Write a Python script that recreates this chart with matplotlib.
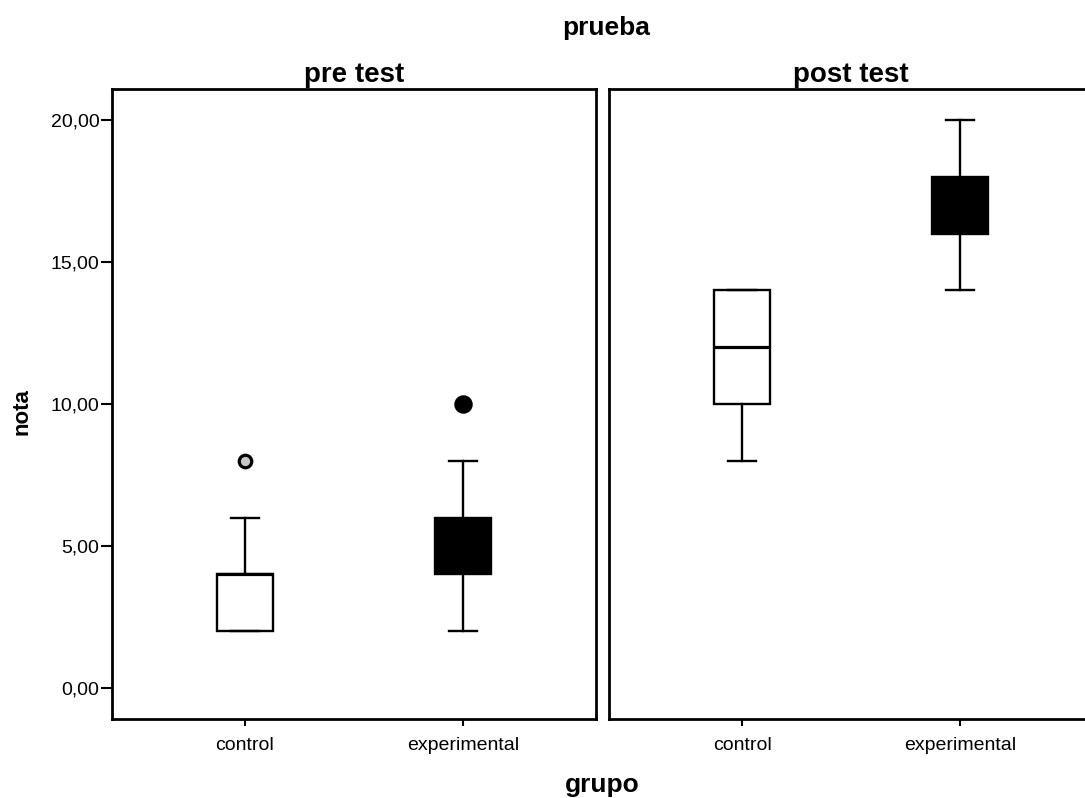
import matplotlib
matplotlib.use("Agg")
import matplotlib.pyplot as plt
from matplotlib.ticker import FuncFormatter

plt.rcParams['font.family'] = ['Liberation Sans', 'DejaVu Sans']

groups = ['control', 'experimental']
panels = ['pre test', 'post test']

# box summaries per panel, ordered [control, experimental]
whislo = [[2, 2], [8, 14]]
q1 = [[2, 4], [10, 16]]
med = [[4, 5], [12, 17]]
q3 = [[4, 6], [14, 18]]
whishi = [[6, 8], [14, 20]]
fliers = [[[8], [10]], [[], []]]
yticks = [0, 5, 10, 15, 20]

box_faces = ['white', 'black']
flier_faces = ['#c8c8c8', 'black']
flier_sizes = [9, 11]


def panel(ax, k):
    stats = []
    for i in range(len(groups)):
        stats.append(dict(whislo=whislo[k][i], q1=q1[k][i], med=med[k][i],
                          q3=q3[k][i], whishi=whishi[k][i], fliers=fliers[k][i]))
    bp = ax.bxp(stats, positions=[1, 2], widths=0.26, capwidths=0.125,
                patch_artist=True,
                boxprops=dict(linewidth=1.7, edgecolor='black'),
                whiskerprops=dict(linewidth=1.7, color='black'),
                capprops=dict(linewidth=1.7, color='black'),
                medianprops=dict(linewidth=2.3, color='black'))
    for i, b in enumerate(bp['boxes']):
        b.set_facecolor(box_faces[i])
    for i, f in enumerate(bp['fliers']):
        f.set(marker='o', markerfacecolor=flier_faces[i], markeredgecolor='black',
              markersize=flier_sizes[i], markeredgewidth=2.3)

    ax.set_xlim(0.39, 2.61)
    ax.set_ylim(-1.1, 21.1)
    ax.set_xticks([1, 2])
    ax.set_xticklabels(groups)
    ax.tick_params(axis='x', length=5, width=1.5, pad=8, labelsize=14)
    for s in ax.spines.values():
        s.set_linewidth(2)
    ax.set_title(panels[k], fontsize=20, fontweight='bold', pad=5)


fig = plt.figure(figsize=(10.85, 7.98), dpi=100)
ax1 = fig.add_axes([0.1032, 0.0990, 0.4461, 0.7895])
ax2 = fig.add_axes([0.5613, 0.0990, 0.4461, 0.7895])

panel(ax1, 0)
panel(ax2, 1)

ax1.set_yticks(yticks)
ax1.yaxis.set_major_formatter(FuncFormatter(lambda v, p: f'{v:.2f}'.replace('.', ',')))
ax1.tick_params(axis='y', length=8, width=1.5, pad=1, labelsize=14)
ax2.tick_params(axis='y', left=False, labelleft=False)

fig.text(0.559, 0.965, 'prueba', ha='center', va='center', fontsize=19, fontweight='bold')
fig.text(0.555, 0.016, 'grupo', ha='center', va='center', fontsize=19, fontweight='bold')
fig.text(0.020, 0.484, 'nota', ha='center', va='center', rotation=90, fontsize=16, fontweight='bold')

fig.savefig('out.png', dpi=100)
